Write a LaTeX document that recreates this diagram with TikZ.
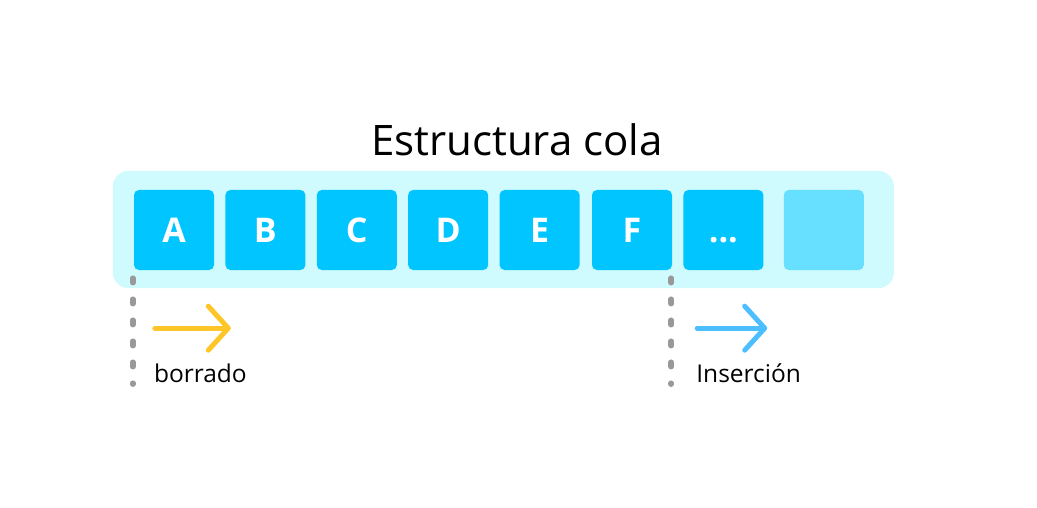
\documentclass[tikz,border=0pt]{standalone}
\usepackage{fontspec}
\setmainfont{Open Sans}
\usepackage{xcolor}
\usetikzlibrary{arrows.meta, positioning, backgrounds, calc}
\definecolor{queuebg}{HTML}{CFFAFE}
\definecolor{cellblue}{HTML}{00C5FF}
\definecolor{cellfree}{HTML}{67DFFF}
\definecolor{delyellow}{HTML}{FFC62A}
\definecolor{insblue}{HTML}{4DBEFF}
\definecolor{markgray}{HTML}{999999}
\tikzset{
  cell/.style={fill=cellblue, rounded corners=5pt, minimum width=80pt, minimum height=80pt,
               inner sep=0pt, text=white, text height=24pt, text depth=0pt,
               font=\fontsize{34}{34}\selectfont\bfseries},
  freecell/.style={cell, fill=cellfree},
  queueframe/.style={fill=queuebg, rounded corners=16pt},
  marker/.style={markgray, line width=5.5pt, line cap=round, dash pattern=on 4.5pt off 16.5pt},
  flowarrow/.style={line width=5pt, line cap=round,
                    -{Straight Barb[length=20pt, width=44pt, line cap=round, line join=round]}},
  caption/.style={font=\fontsize{24.5}{24.5}\selectfont, anchor=base west, inner sep=0pt},
  titletext/.style={font=\fontsize{42}{42}\selectfont, anchor=base, inner sep=0pt}
}

\begin{document}
\begin{tikzpicture}[x=1pt, y=-1pt]
\useasboundingbox (0,0) rectangle (1037,508);

% Title
\node[titletext] (title) at (517,156) {Estructura cola};

% Cells of the queue
\node[cell] (a) at (174,230) {A};
\node[cell, right=11pt of a] (b) {B};
\node[cell, right=11pt of b] (c) {C};
\node[cell, right=11pt of c] (d) {D};
\node[cell, right=11pt of d] (e) {E};
\node[cell, right=12pt of e] (f) {F};
\node[cell, right=11pt of f] (dots) {...};
\node[freecell, right=20pt of dots] (free) {};

% Frame
\begin{scope}[on background layer]
  \fill[queueframe] ($(a.north west)+(-21,-19)$) rectangle ($(free.south east)+(30,18)$);
\end{scope}

% Markers
\coordinate (delmark) at ($(a.south west)+(-1,8)$);
\coordinate (insmark) at ($(f.south east)+(-1,8)$);
\draw[marker] (delmark) -- ++(0,106);
\draw[marker] (insmark) -- ++(0,106);

% Arrows and labels
\coordinate (delstart) at ($(delmark)+(22,50)$);
\coordinate (insstart) at ($(insmark)+(26,50)$);
\draw[flowarrow, delyellow] (delstart) -- ++(76,0);
\draw[flowarrow, insblue] (insstart) -- ++(70,0);
\node[caption] (del) at ($(delmark)+(21,104)$) {borrado};
\node[caption] (ins) at ($(insmark)+(25,104)$) {Inserción};

\end{tikzpicture}
\end{document}
